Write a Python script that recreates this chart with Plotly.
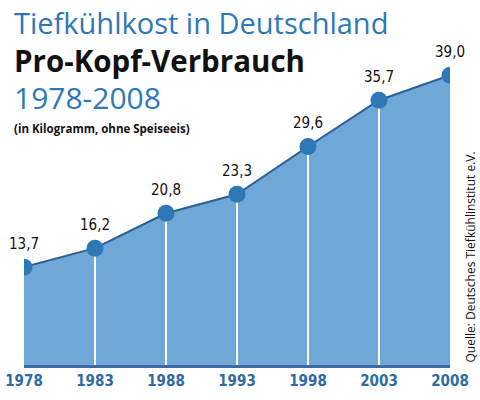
import plotly.graph_objects as go

# Pro-Kopf-Verbrauch Tiefkühlkost (kg)
years = [1978, 1983, 1988, 1993, 1998, 2003, 2008]
values = [13.7, 16.2, 20.8, 23.3, 29.6, 35.7, 39.0]
labels = ["13,7", "16,2", "20,8", "23,3", "29,6", "35,7", "39,0"]

blue = "#2e78b8"
fill_blue = "#6fa7d7"
dark_line = "#2b5e95"
cond = "Liberation Sans Narrow, DejaVu Sans Condensed, Roboto, sans-serif"
sans = "Open Sans, Noto Sans, sans-serif"

fig = go.Figure()

# area
fig.add_trace(go.Scatter(x=years, y=values, mode="lines", fill="tozeroy",
                         fillcolor=fill_blue, line=dict(color=dark_line, width=2),
                         hoverinfo="skip"))

# white drop lines (inner points only)
vx, vy = [], []
for yr, v in zip(years[1:-1], values[1:-1]):
    vx += [yr, yr, None]
    vy += [0, v, None]
fig.add_trace(go.Scatter(x=vx, y=vy, mode="lines",
                         line=dict(color="white", width=2), hoverinfo="skip"))

# markers
fig.add_trace(go.Scatter(x=years, y=values, mode="markers",
                         marker=dict(size=17, color=blue), hoverinfo="skip"))

for yr, v, t in zip(years, values, labels):
    fig.add_annotation(x=yr, y=v, text=t, showarrow=False, yshift=23,
                       font=dict(family=cond, size=15, color="#111111"))

# titles
titles = [
    ("Tiefkühlkost in Deutschland", 23, 29, blue),
    ("<b>Pro-Kopf-Verbrauch</b>", 61, 29.5, "#111111"),
    ("1978-2008", 97, 30, blue),
    ("<b>(in Kilogramm, ohne Speiseeis)</b>", 128, 11.5, "#111111"),
]
for txt, ypx, sz, col in titles:
    fig.add_annotation(xref="paper", yref="paper", x=(12 - 24) / 426,
                       y=(365 - ypx) / 305, xanchor="left", yanchor="middle",
                       text=txt, showarrow=False,
                       font=dict(family=sans, size=sz, color=col))

fig.add_annotation(xref="paper", yref="paper", x=(470 - 24) / 426, y=0,
                   xanchor="center", yanchor="bottom", textangle=-90,
                   text="Quelle: Deutsches Tiefkühlinstitut e.V.", showarrow=False,
                   font=dict(family=sans, size=12, color="#111111"))

fig.update_layout(
    width=480, height=400,
    margin=dict(l=24, r=30, t=60, b=35, autoexpand=False),
    paper_bgcolor="white", plot_bgcolor="white",
    showlegend=False,
    xaxis=dict(range=[1978, 2008], tickvals=years, ticktext=[str(y) for y in years],
               showgrid=False, zeroline=False, showline=True,
               linecolor="#3a6aa6", linewidth=3, ticks="",
               tickfont=dict(family=cond, size=15, color="#2f6aa8", weight="bold")),
    yaxis=dict(range=[0.8, 41.0], visible=False, showgrid=False),
)

fig.write_html("out.html", config={"displayModeBar": False},
               post_script="document.body.style.margin='0';")
